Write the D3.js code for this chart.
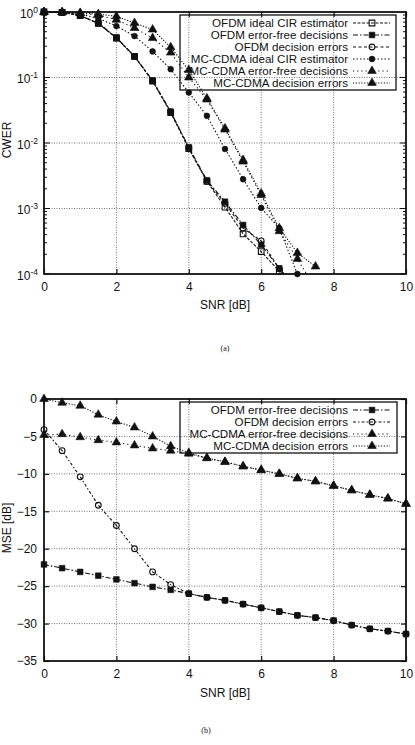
<!DOCTYPE html>
<html>
<head>
<meta charset="utf-8">
<script src="https://cdn.jsdelivr.net/npm/d3@7"></script>
<style>
  body { margin: 0; background: #fff; }
  svg { display: block; }
  text { font-family: "Liberation Sans", Arial, Helvetica, sans-serif; fill: #111; }
</style>
</head>
<body>
<div id="chart"></div>
<script>
// ---- panel (a): CWER vs SNR ----
const snrA = [0, 0.5, 1, 1.5, 2, 2.5, 3, 3.5, 4, 4.5, 5, 5.5, 6, 6.5, 7];
const snrA2 = [0, 0.5, 1, 1.5, 2, 2.5, 3, 3.5, 4, 4.5, 5, 5.5, 6, 6.5, 7, 7.5];
const ofdmIdealA = [1, 0.99, 0.88, 0.67, 0.40, 0.21, 0.088, 0.029, 0.0082, 0.0026, 0.00105, 0.00041, 0.00022, 0.00011, 0.00005];
const ofdmFreeA  = [1, 0.99, 0.88, 0.68, 0.41, 0.21, 0.090, 0.030, 0.0086, 0.0027, 0.00127, 0.00056, 0.00028, 0.000122, 0.00006];
const ofdmDecA   = [1, 0.99, 0.88, 0.67, 0.40, 0.21, 0.089, 0.030, 0.0084, 0.0026, 0.0012, 0.0005, 0.00032, 0.00012, 0.00005];
const mcIdealA   = [1, 0.98, 0.93, 0.80, 0.61, 0.43, 0.25, 0.134, 0.059, 0.026, 0.0081, 0.0028, 0.00102, 0.0005, 0.0001];
const mcFreeA    = [1, 0.99, 0.96, 0.90, 0.76, 0.57, 0.40, 0.24, 0.10, 0.046, 0.016, 0.0052, 0.0016, 0.00045, 0.00017, 0.00006];
const mcDecA     = [1, 0.99, 0.97, 0.93, 0.86, 0.68, 0.54, 0.29, 0.13, 0.048, 0.0167, 0.0055, 0.0017, 0.0005, 0.00021, 0.00013];
const yTicksA = [1e-4, 1e-3, 1e-2, 1e-1, 1];
const yExpA = ["-4", "-3", "-2", "-1", "0"];

// ---- panel (b): MSE vs SNR ----
const snrB = [0, 0.5, 1, 1.5, 2, 2.5, 3, 3.5, 4, 4.5, 5, 5.5, 6, 6.5, 7, 7.5, 8, 8.5, 9, 9.5, 10];
const ofdmFreeB = [-22.1, -22.6, -23.1, -23.6, -24.1, -24.6, -25.1, -25.5, -26.0, -26.5, -26.9, -27.4, -27.9, -28.4, -28.9, -29.2, -29.6, -30.2, -30.7, -31.0, -31.4];
const ofdmDecB  = [-4.1, -6.9, -10.4, -14.2, -16.9, -20.0, -23.1, -24.8, -26.0, -26.5, -26.9, -27.4, -27.9, -28.4, -28.9, -29.2, -29.6, -30.2, -30.7, -31.0, -31.4];
const mcFreeB   = [-4.8, -4.7, -5.1, -5.5, -5.8, -6.2, -6.6, -6.9, -7.3, -7.9, -8.4, -9.0, -9.5, -10.0, -10.6, -11.0, -11.6, -12.2, -12.8, -13.3, -14.0];
const mcDecB    = [0, -0.5, -0.9, -2.1, -3.0, -3.8, -5.0, -6.3, -7.2, -7.9, -8.4, -9.0, -9.5, -10.0, -10.6, -11.0, -11.6, -12.2, -12.8, -13.3, -14.0];
const yTicksB = [0, -5, -10, -15, -20, -25, -30, -35];

const xTicks = [0, 2, 4, 6, 8, 10];

const width = 415, height = 745;
const svg = d3.select("#chart").append("svg")
    .attr("width", width)
    .attr("height", height);

// symbol helpers
const sym = {
    square: d3.symbol().type(d3.symbolSquare).size(32)(),
    circle: d3.symbol().type(d3.symbolCircle).size(26)(),
    triangle: d3.symbol().type(d3.symbolTriangle).size(32)()
};

function drawMarker(g, shape, open, x, y) {
    g.append("path")
        .attr("d", sym[shape])
        .attr("transform", `translate(${x},${y})`)
        .style("fill", open ? "none" : "#111")
        .style("stroke", "#111")
        .style("stroke-width", open ? 1.1 : 0.6);
}

function frame(g, x, y, id) {
    const [x0, x1] = x.range();
    const [y0, y1] = [y.range()[1], y.range()[0]];

    // vertical grid
    g.append("g").selectAll("line")
        .data(xTicks.slice(1, -1))
        .enter().append("line")
        .attr("x1", d => x(d)).attr("x2", d => x(d))
        .attr("y1", y0).attr("y2", y1)
        .style("stroke", "#666")
        .style("stroke-width", 0.9)
        .style("stroke-dasharray", "1,1.5");

    // x ticks bottom + top (inward)
    g.append("g")
        .attr("transform", `translate(0,${y1})`)
        .call(d3.axisBottom(x).tickValues(xTicks).tickSizeInner(-5).tickSizeOuter(0).tickPadding(8))
        .call(a => a.select(".domain").remove())
        .call(a => a.selectAll("text").style("font-size", "12px").attr("dy", "0.72em"))
        .call(a => a.selectAll("line").style("stroke", "#111").style("stroke-width", 1.2));
    g.append("g")
        .attr("transform", `translate(0,${y0})`)
        .call(d3.axisTop(x).tickValues(xTicks).tickSizeInner(-5).tickSizeOuter(0).tickFormat(""))
        .call(a => a.select(".domain").remove())
        .call(a => a.selectAll("line").style("stroke", "#111").style("stroke-width", 1.2));

    g.append("defs").append("clipPath").attr("id", id)
        .append("rect")
        .attr("x", x0 - 10).attr("y", y0 - 10)
        .attr("width", x1 - x0 + 20).attr("height", y1 - y0 + 10);

    return [x0, x1, y0, y1];
}

function border(g, x0, x1, y0, y1) {
    g.append("rect")
        .attr("x", x0).attr("y", y0)
        .attr("width", x1 - x0).attr("height", y1 - y0)
        .style("fill", "none")
        .style("stroke", "#111")
        .style("stroke-width", 1.8);
}

function legend(g, items, left, top, right, rowH) {
    const bottom = top + rowH * items.length + 3;
    g.append("rect")
        .attr("x", left).attr("y", top)
        .attr("width", right - left).attr("height", bottom - top)
        .style("fill", "none")
        .style("stroke", "#111")
        .style("stroke-width", 1.3);
    items.forEach((it, i) => {
        const cy = top + 8 + i * rowH;
        g.append("text")
            .attr("x", 348).attr("y", cy + 4)
            .attr("text-anchor", "end")
            .style("font-size", "11.6px")
            .text(it.name);
        g.append("line")
            .attr("x1", 353).attr("x2", 390)
            .attr("y1", cy).attr("y2", cy)
            .style("stroke", "#111")
            .style("stroke-width", 1.1)
            .style("stroke-dasharray", it.dash);
        drawMarker(g, it.shape, it.open, 372, cy);
    });
}

function series(g, clipId, x, y, xs, ys, s, yMin) {
    const pts = xs.map((d, i) => [d, ys[i]]);
    const line = d3.line().x(d => x(d[0])).y(d => y(d[1]));
    g.append("path")
        .datum(pts)
        .attr("clip-path", `url(#${clipId})`)
        .attr("d", line)
        .style("fill", "none")
        .style("stroke", "#111")
        .style("stroke-width", 1.1)
        .style("stroke-dasharray", s.dash);
    const mg = g.append("g");
    pts.filter(d => yMin === undefined || d[1] >= yMin)
        .forEach(d => drawMarker(mg, s.shape, s.open, x(d[0]), y(d[1])));
}

// ================= panel (a) =================
const xA = d3.scaleLinear().domain([0, 10]).range([44, 406]);
const yA = d3.scaleLog().domain([1e-4, 1]).range([274, 12]);
const gA = svg.append("g");
const [ax0, ax1, ay0, ay1] = frame(gA, xA, yA, "clipA");

// horizontal decade grid
gA.append("g").selectAll("line")
    .data(yTicksA.slice(1, -1))
    .enter().append("line")
    .attr("x1", ax0).attr("x2", ax1)
    .attr("y1", d => yA(d)).attr("y2", d => yA(d))
    .style("stroke", "#666")
    .style("stroke-width", 0.9)
    .style("stroke-dasharray", "1,1.5");

// log minor ticks, left and right
const minorA = [];
for (let e = -4; e < 0; e++) for (let m = 1; m < 10; m++) minorA.push(m * Math.pow(10, e));
gA.append("g").selectAll("line")
    .data(minorA.concat(minorA))
    .enter().append("line")
    .attr("x1", (d, i) => i < minorA.length ? ax0 : ax1)
    .attr("x2", (d, i) => {
        const len = Math.abs(Math.log10(d) % 1) < 1e-9 ? 6 : 3;
        return i < minorA.length ? ax0 + len : ax1 - len;
    })
    .attr("y1", d => yA(d)).attr("y2", d => yA(d))
    .style("stroke", "#111")
    .style("stroke-width", 1);

// y labels 10^n
const yLabA = gA.append("g").selectAll("text")
    .data(yTicksA)
    .enter().append("text")
    .attr("x", 38)
    .attr("y", d => yA(d) + 5.5)
    .attr("text-anchor", "end")
    .style("font-size", "12px");
yLabA.append("tspan").text("10");
yLabA.append("tspan")
    .attr("dy", "-5")
    .style("font-size", "8.5px")
    .text((d, i) => yExpA[i]);

const stylesA = [
    { name: "OFDM ideal CIR estimator", shape: "square", open: true, dash: "3,1.5", data: ofdmIdealA, xs: snrA },
    { name: "OFDM error-free decisions", shape: "square", open: false, dash: "5,2,1.5,2", data: ofdmFreeA, xs: snrA },
    { name: "OFDM decision errors", shape: "circle", open: true, dash: "3,2.5", data: ofdmDecA, xs: snrA },
    { name: "MC-CDMA ideal CIR estimator", shape: "circle", open: false, dash: "1.5,2", data: mcIdealA, xs: snrA },
    { name: "MC-CDMA error-free decisions", shape: "triangle", open: false, dash: "1.2,3", data: mcFreeA, xs: snrA2 },
    { name: "MC-CDMA decision errors", shape: "triangle", open: false, dash: "1.2,1.6", data: mcDecA, xs: snrA2 }
];
stylesA.forEach(s => series(gA, "clipA", xA, yA, s.xs, s.data, s, 0.95e-4));
border(gA, ax0, ax1, ay0, ay1);
legend(gA, stylesA, 180, 15, 396, 12);

gA.append("text")
    .attr("transform", "translate(11,140) rotate(-90)")
    .attr("text-anchor", "middle")
    .style("font-size", "12px")
    .text("CWER");
gA.append("text")
    .attr("x", 225).attr("y", 309)
    .attr("text-anchor", "middle")
    .style("font-size", "12px")
    .text("SNR [dB]");
gA.append("text")
    .attr("x", 225).attr("y", 351)
    .attr("text-anchor", "middle")
    .style("font-family", "'Liberation Serif', serif")
    .style("font-size", "8px")
    .text("(a)");

// ================= panel (b) =================
const xB = d3.scaleLinear().domain([0, 10]).range([44, 406]);
const yB = d3.scaleLinear().domain([-35, 0]).range([661, 399]);
const gB = svg.append("g");
const [bx0, bx1, by0, by1] = frame(gB, xB, yB, "clipB");

gB.append("g").selectAll("line")
    .data(yTicksB.slice(1, -1))
    .enter().append("line")
    .attr("x1", bx0).attr("x2", bx1)
    .attr("y1", d => yB(d)).attr("y2", d => yB(d))
    .style("stroke", "#666")
    .style("stroke-width", 0.9)
    .style("stroke-dasharray", "1,1.5");

gB.append("g")
    .attr("transform", `translate(${bx0},0)`)
    .call(d3.axisLeft(yB).tickValues(yTicksB).tickSizeInner(-5).tickSizeOuter(0).tickPadding(7))
    .call(a => a.select(".domain").remove())
    .call(a => a.selectAll("text").style("font-size", "12px"))
    .call(a => a.selectAll("line").style("stroke", "#111").style("stroke-width", 1.2));
gB.append("g")
    .attr("transform", `translate(${bx1},0)`)
    .call(d3.axisRight(yB).tickValues(yTicksB).tickSizeInner(-5).tickSizeOuter(0).tickFormat(""))
    .call(a => a.select(".domain").remove())
    .call(a => a.selectAll("line").style("stroke", "#111").style("stroke-width", 1.2));

const stylesB = [
    { name: "OFDM error-free decisions", shape: "square", open: false, dash: "5,2,1.5,2", data: ofdmFreeB },
    { name: "OFDM decision errors", shape: "circle", open: true, dash: "3,2,1.5,2", data: ofdmDecB },
    { name: "MC-CDMA error-free decisions", shape: "triangle", open: false, dash: "1.2,3", data: mcFreeB },
    { name: "MC-CDMA decision errors", shape: "triangle", open: false, dash: "1.2,1.6", data: mcDecB }
];
stylesB.forEach(s => series(gB, "clipB", xB, yB, snrB, s.data, s));
border(gB, bx0, bx1, by0, by1);
legend(gB, stylesB, 180, 402, 397, 12);

gB.append("text")
    .attr("transform", "translate(11,528) rotate(-90)")
    .attr("text-anchor", "middle")
    .style("font-size", "12px")
    .text("MSE [dB]");
gB.append("text")
    .attr("x", 225).attr("y", 697)
    .attr("text-anchor", "middle")
    .style("font-size", "12px")
    .text("SNR [dB]");
gB.append("text")
    .attr("x", 206).attr("y", 733)
    .attr("text-anchor", "middle")
    .style("font-family", "'Liberation Serif', serif")
    .style("font-size", "8px")
    .text("(b)");
</script>
</body>
</html>
